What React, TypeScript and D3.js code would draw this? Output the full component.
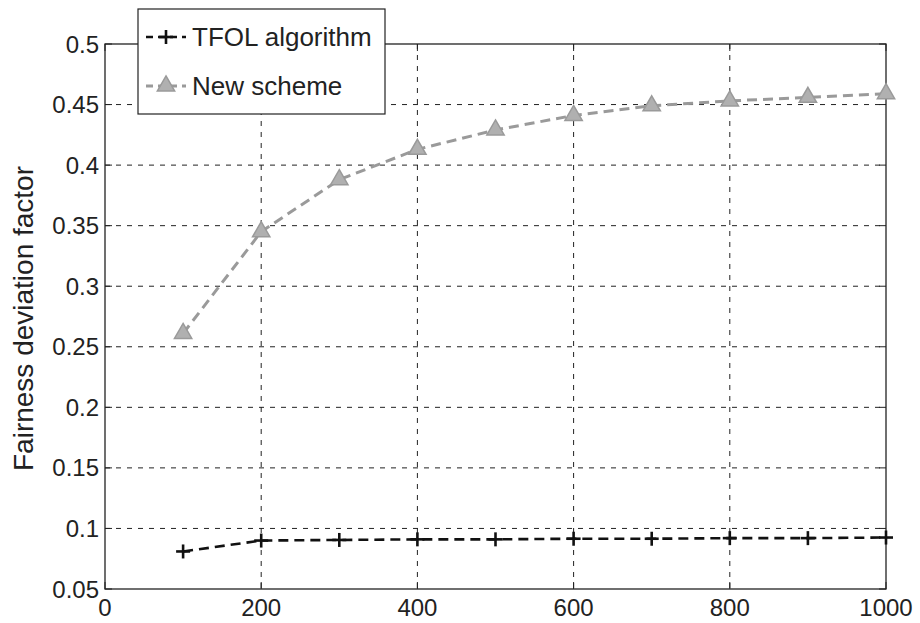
import React from "react";
import * as d3 from "d3";

const xValues = [100, 200, 300, 400, 500, 600, 700, 800, 900, 1000];
const tfolValues = [0.081, 0.09, 0.0905, 0.091, 0.091, 0.0915, 0.0915, 0.092, 0.092, 0.0925];
const newSchemeValues = [0.261, 0.345, 0.388, 0.413, 0.429, 0.441, 0.449, 0.453, 0.456, 0.459];
const xTicks = [0, 200, 400, 600, 800, 1000];
const yTicks = [0.05, 0.1, 0.15, 0.2, 0.25, 0.3, 0.35, 0.4, 0.45, 0.5];
const yTickLabels = ["0.05", "0.1", "0.15", "0.2", "0.25", "0.3", "0.35", "0.4", "0.45", "0.5"];
const seriesNames = ["TFOL algorithm", "New scheme"];

const W = 920;
const H = 623;
const L = 105, R = 886, T = 44, B = 589;
const FONT = "'Liberation Sans', Arial, Helvetica, sans-serif";

export default function App() {
  const x = d3.scaleLinear().domain([0, 1000]).range([L, R]);
  const y = d3.scaleLinear().domain([0.05, 0.5]).range([B, T]);
  const line = d3.line<[number, number]>().x((d) => x(d[0])).y((d) => y(d[1]));
  const tfolPts: [number, number][] = xValues.map((v, i) => [v, tfolValues[i]]);
  const newPts: [number, number][] = xValues.map((v, i) => [v, newSchemeValues[i]]);
  const tri = d3.symbol().type(d3.symbolTriangle).size(130)() as string;
  const grey = "#9a9a9a";

  const plus = (cx: number, cy: number, k: string) => (
    <g key={k} stroke="#111" strokeWidth={2.6}>
      <line x1={cx - 7} x2={cx + 7} y1={cy} y2={cy} />
      <line x1={cx} x2={cx} y1={cy - 7} y2={cy + 7} />
    </g>
  );

  return (
    <svg width={W} height={H} style={{ position: "absolute", left: 0, top: 0, background: "#fff" }}>
      <rect x={0} y={0} width={W} height={H} fill="#fff" />
      {/* grid */}
      {xTicks.slice(1, -1).map((t) => (
        <line key={"gx" + t} x1={x(t)} x2={x(t)} y1={T} y2={B} stroke="#222" strokeWidth={1} strokeDasharray="5,6" />
      ))}
      {yTicks.slice(1, -1).map((t) => (
        <line key={"gy" + t} x1={L} x2={R} y1={y(t)} y2={y(t)} stroke="#222" strokeWidth={1} strokeDasharray="5,6" />
      ))}
      {/* ticks */}
      {xTicks.map((t) => (
        <g key={"tx" + t}>
          <line x1={x(t)} x2={x(t)} y1={B} y2={B - 7} stroke="#222" />
          <line x1={x(t)} x2={x(t)} y1={T} y2={T + 7} stroke="#222" />
          <text x={x(t)} y={616} textAnchor="middle" fontFamily={FONT} fontSize={24} fill="#222">{t}</text>
        </g>
      ))}
      {yTicks.map((t, i) => (
        <g key={"ty" + t}>
          <line x1={L} x2={L + 7} y1={y(t)} y2={y(t)} stroke="#222" />
          <line x1={R} x2={R - 7} y1={y(t)} y2={y(t)} stroke="#222" />
          <text x={L - 6} y={y(t) + 8.5} textAnchor="end" fontFamily={FONT} fontSize={24} fill="#222">{yTickLabels[i]}</text>
        </g>
      ))}
      {/* box */}
      <rect x={L} y={T} width={R - L} height={B - T} fill="none" stroke="#222" strokeWidth={1.3} />
      {/* y label */}
      <text transform={`translate(33,${(T + B) / 2 + 2}) rotate(-90)`} textAnchor="middle" fontFamily={FONT} fontSize={28} fill="#222">Fairness deviation factor</text>
      {/* new scheme */}
      <path d={line(newPts) as string} fill="none" stroke={grey} strokeWidth={3} strokeDasharray="10,6" />
      {newPts.map((p, i) => (
        <path key={"n" + i} d={tri} transform={`translate(${x(p[0])},${y(p[1])})`} fill="#b0b0b0" stroke={grey} strokeWidth={1.5} />
      ))}
      {/* TFOL */}
      <path d={line(tfolPts) as string} fill="none" stroke="#111" strokeWidth={2.6} strokeDasharray="10,6" />
      {tfolPts.map((p, i) => plus(x(p[0]), y(p[1]), "t" + i))}
      {/* legend */}
      <rect x={138} y={9} width={247} height={105} fill="#fff" stroke="#222" strokeWidth={1.2} />
      <line x1={146} x2={186} y1={37} y2={37} stroke="#111" strokeWidth={2.6} strokeDasharray="7,5" />
      {plus(166, 37, "lp")}
      <text x={192} y={46} fontFamily={FONT} fontSize={26} fill="#222">{seriesNames[0]}</text>
      <line x1={146} x2={186} y1={86} y2={86} stroke={grey} strokeWidth={3} strokeDasharray="7,5" />
      <path d={tri} transform="translate(166,86)" fill="#b0b0b0" stroke={grey} strokeWidth={1.5} />
      <text x={192} y={95} fontFamily={FONT} fontSize={26} fill="#222">{seriesNames[1]}</text>
    </svg>
  );
}
